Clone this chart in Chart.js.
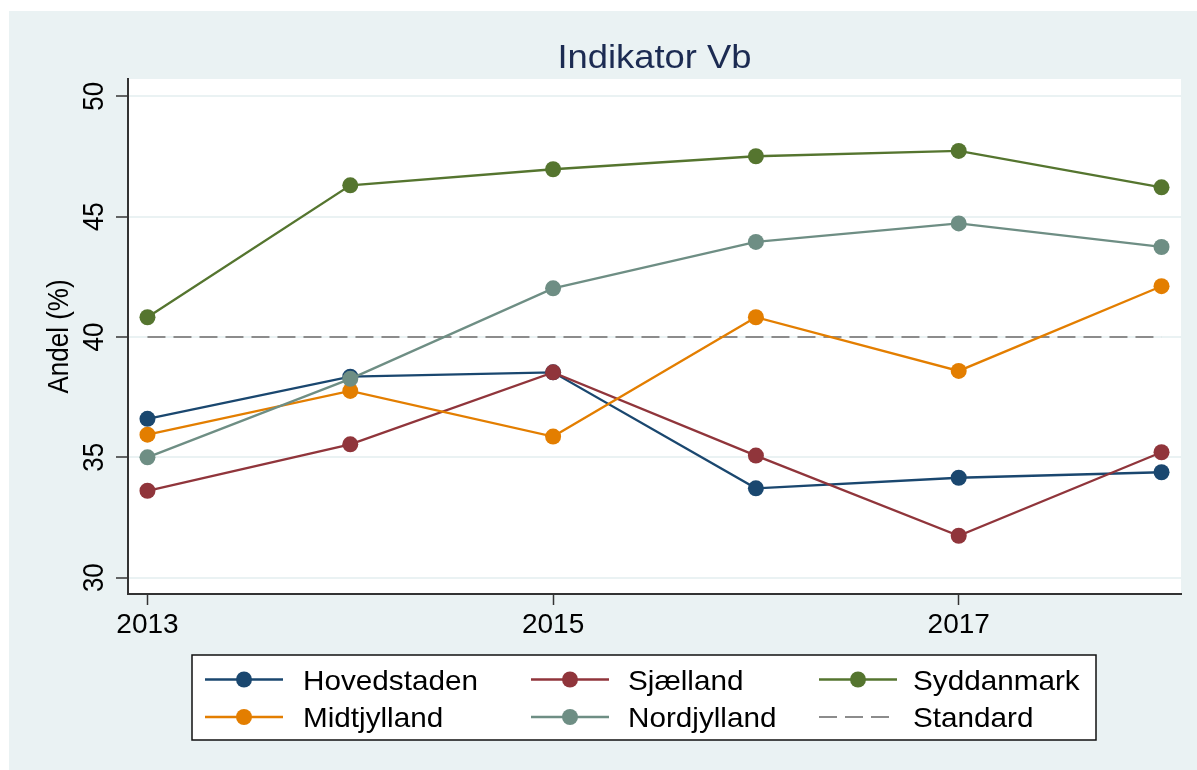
<!DOCTYPE html>
<html>
<head>
<meta charset="utf-8">
<script src="https://cdn.jsdelivr.net/npm/chart.js@4/dist/chart.umd.min.js"></script>
<style>
  html, body { margin: 0; padding: 0; background: #ffffff; }
  #wrap { width: 1197px; height: 770px; }
</style>
</head>
<body>
<div id="wrap"><canvas id="c" width="1197" height="770"></canvas></div>
<script>
const years = [2013, 2014, 2015, 2016, 2017, 2018];
const xTickLabels = [2013, 2015, 2017];
const yTickLabels = [30, 35, 40, 45, 50];

const hovedstaden = [36.6, 38.35, 38.53, 33.71, 34.15, 34.38];
const sjaelland   = [33.61, 35.54, 38.53, 35.07, 31.74, 35.21];
const syddanmark  = [40.82, 46.3, 46.97, 47.51, 47.73, 46.22];
const midtjylland = [35.94, 37.76, 35.86, 40.82, 38.59, 42.11];
const nordjylland = [35.0, 38.26, 42.02, 43.95, 44.72, 43.74];
const standard    = [40, 40, 40, 40, 40, 40];

const seriesNames = ['Hovedstaden', 'Sjælland', 'Syddanmark', 'Midtjylland', 'Nordjylland', 'Standard'];
const seriesColors = ['#1a476f', '#90353b', '#55752f', '#e37e00', '#6e8e84', '#8c8c8c'];
const chartTitle = 'Indikator Vb';
const yAxisTitle = 'Andel (%)';

const FONT = '"Liberation Sans", Arial, Helvetica, sans-serif';
const toPts = arr => years.map((x, i) => ({ x: x, y: arr[i] }));

function lineDS(name, arr, color, order) {
  return {
    label: name, data: toPts(arr), borderColor: color, backgroundColor: color,
    borderWidth: 2.3, pointRadius: 8, pointHoverRadius: 8, pointBorderWidth: 0,
    pointBackgroundColor: color, tension: 0, order: order
  };
}

const datasets = [
  lineDS(seriesNames[0], hovedstaden, seriesColors[0], 5),
  lineDS(seriesNames[1], sjaelland, seriesColors[1], 4),
  lineDS(seriesNames[2], syddanmark, seriesColors[2], 3),
  lineDS(seriesNames[3], midtjylland, seriesColors[3], 2),
  lineDS(seriesNames[4], nordjylland, seriesColors[4], 1),
  {
    label: seriesNames[5], data: toPts(standard), borderColor: seriesColors[5],
    borderWidth: 2, borderDash: [18, 8], pointRadius: 0, pointHoverRadius: 0, order: 10
  }
];

const bgPlugin = {
  id: 'bgPlugin',
  beforeDraw(chart) {
    const ctx = chart.ctx, a = chart.chartArea;
    ctx.save();
    ctx.fillStyle = '#ffffff';
    ctx.fillRect(0, 0, chart.width, chart.height);
    ctx.fillStyle = '#eaf2f3';
    ctx.fillRect(9, 11, chart.width - 9, chart.height - 11);
    ctx.fillStyle = '#ffffff';
    ctx.fillRect(a.left, a.top, a.right - a.left, a.bottom - a.top);
    ctx.restore();
  }
};

const textPlugin = {
  id: 'textPlugin',
  afterDraw(chart) {
    const ctx = chart.ctx, ys = chart.scales.y, a = chart.chartArea;
    ctx.save();
    // title, centred over the plot region
    ctx.fillStyle = '#1c2b52';
    ctx.font = '34px ' + FONT;
    ctx.textAlign = 'center';
    ctx.textBaseline = 'alphabetic';
    ctx.save();
    ctx.translate((a.left + a.right) / 2, 68);
    ctx.scale(1.07, 1);
    ctx.fillText(chartTitle, 0, 0);
    ctx.restore();
    // y axis title
    ctx.fillStyle = '#000000';
    ctx.font = '26px ' + FONT;
    ctx.save();
    ctx.translate(68, (a.top + a.bottom) / 2);
    ctx.rotate(-Math.PI / 2);
    ctx.scale(1, 1.1);
    ctx.fillText(yAxisTitle, 0, 0);
    ctx.restore();
    // y tick labels
    ys.ticks.forEach(t => {
      const py = ys.getPixelForValue(t.value);
      ctx.save();
      ctx.translate(103, py);
      ctx.rotate(-Math.PI / 2);
      ctx.scale(1, 1.12);
      ctx.fillText(String(t.value), 0, 0);
      ctx.restore();
    });
    ctx.restore();
  }
};

const legendPlugin = {
  id: 'boxLegend',
  afterDraw(chart) {
    const ctx = chart.ctx;
    const bx = 192, by = 655, bw = 904, bh = 85;
    ctx.save();
    ctx.fillStyle = '#ffffff';
    ctx.fillRect(bx, by, bw, bh);
    ctx.strokeStyle = '#111111';
    ctx.lineWidth = 1.5;
    ctx.strokeRect(bx, by, bw, bh);
    const colX = [205, 531, 819];
    const rowY = [679.5, 717];
    const textOff = [98, 97, 94];
    chart.data.datasets.forEach((ds, i) => {
      const cx = colX[i % 3], cy = rowY[Math.floor(i / 3)];
      ctx.strokeStyle = ds.borderColor;
      ctx.lineWidth = ds.borderWidth;
      ctx.setLineDash(ds.borderDash || []);
      ctx.beginPath();
      ctx.moveTo(cx, cy);
      ctx.lineTo(cx + 78, cy);
      ctx.stroke();
      ctx.setLineDash([]);
      if (ds.pointRadius > 0) {
        ctx.fillStyle = ds.borderColor;
        ctx.beginPath();
        ctx.arc(cx + 39, cy, 8, 0, Math.PI * 2);
        ctx.fill();
      }
      ctx.fillStyle = '#000000';
      ctx.font = '28px ' + FONT;
      ctx.textAlign = 'left';
      ctx.textBaseline = 'alphabetic';
      ctx.save();
      ctx.translate(cx + textOff[i % 3], cy + 10);
      ctx.scale(1.06, 1);
      ctx.fillText(ds.label, 0, 0);
      ctx.restore();
    });
    ctx.restore();
  }
};

new Chart(document.getElementById('c'), {
  type: 'line',
  data: { datasets: datasets },
  plugins: [bgPlugin, textPlugin, legendPlugin],
  options: {
    responsive: false,
    animation: false,
    layout: { padding: { left: 0, right: 16, top: 79, bottom: 0 } },
    plugins: {
      legend: { display: false },
      tooltip: { enabled: false },
      title: { display: false }
    },
    scales: {
      x: {
        type: 'linear', min: 2012.904, max: 2018.096,
        afterBuildTicks: s => { s.ticks = xTickLabels.map(v => ({ value: v })); },
        afterFit: s => { s.height = 176; },
        grid: { drawOnChartArea: false, drawTicks: true, tickLength: 11, tickColor: '#333333', tickWidth: 1.5 },
        border: { color: '#333333', width: 2 },
        ticks: {
          color: '#000000', font: { family: FONT, size: 28 }, padding: 3,
          maxRotation: 0, minRotation: 0, autoSkip: false,
          callback: v => String(v)
        }
      },
      y: {
        min: 29.32, max: 50.72,
        afterBuildTicks: s => { s.ticks = yTickLabels.map(v => ({ value: v })); },
        afterFit: s => { s.width = 128; },
        grid: { color: '#eaf2f3', lineWidth: 2, drawTicks: true, tickLength: 12, tickColor: '#333333', tickWidth: 1.5 },
        border: { color: '#333333', width: 2 },
        ticks: { display: false },
        title: { display: false }
      }
    }
  }
});
</script>
</body>
</html>
